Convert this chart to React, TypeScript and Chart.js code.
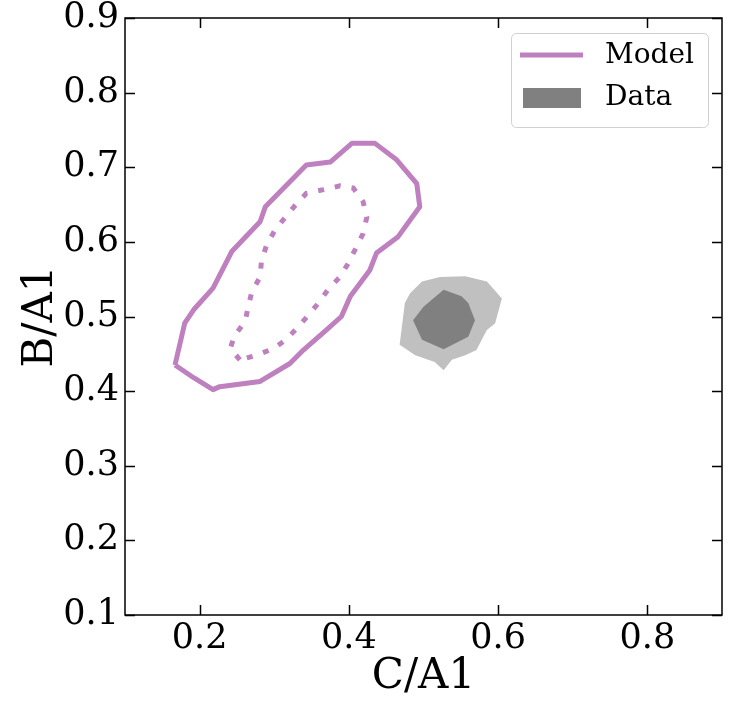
import { useEffect, useRef } from "react";
import { Chart, registerables } from "chart.js";

Chart.register(...registerables);

const FONT = "'DejaVu Serif', 'Liberation Serif', serif";

// Axis ticks
const xTickValues = [0.2, 0.4, 0.6, 0.8];
const yTickValues = [0.1, 0.2, 0.3, 0.4, 0.5, 0.6, 0.7, 0.8, 0.9];

// Model contours (C/A1, B/A1)
const modelOuter: [number, number][] = [
  [0.167, 0.435], [0.180, 0.491], [0.192, 0.509], [0.218, 0.538], [0.243, 0.587],
  [0.281, 0.627], [0.288, 0.647], [0.343, 0.703], [0.375, 0.707], [0.404, 0.732],
  [0.435, 0.732], [0.464, 0.710], [0.491, 0.678], [0.495, 0.647], [0.466, 0.607],
  [0.437, 0.585], [0.428, 0.562], [0.402, 0.527], [0.390, 0.500], [0.370, 0.482],
  [0.339, 0.455], [0.321, 0.437], [0.281, 0.413], [0.227, 0.406], [0.218, 0.402],
  [0.192, 0.418], [0.167, 0.435],
];

const modelInner: [number, number][] = [
  [0.254, 0.442], [0.241, 0.457], [0.247, 0.475], [0.261, 0.493], [0.265, 0.513],
  [0.270, 0.533], [0.281, 0.553], [0.283, 0.576], [0.290, 0.596], [0.301, 0.616],
  [0.314, 0.632], [0.328, 0.649], [0.343, 0.665], [0.366, 0.670], [0.388, 0.675],
  [0.406, 0.672], [0.419, 0.654], [0.424, 0.633], [0.419, 0.611], [0.410, 0.593],
  [0.399, 0.571], [0.388, 0.553], [0.372, 0.536], [0.360, 0.519], [0.346, 0.502],
  [0.330, 0.484], [0.316, 0.469], [0.299, 0.457], [0.276, 0.448], [0.254, 0.442],
];

// Data contours
const dataOuter: [number, number][] = [
  [0.498, 0.547], [0.522, 0.553], [0.556, 0.554], [0.585, 0.547], [0.605, 0.524],
  [0.596, 0.491], [0.585, 0.482], [0.578, 0.469], [0.571, 0.455], [0.556, 0.448],
  [0.538, 0.442], [0.527, 0.428], [0.515, 0.439], [0.489, 0.448], [0.468, 0.462],
  [0.471, 0.486], [0.475, 0.518], [0.482, 0.531], [0.498, 0.547],
];

const dataInner: [number, number][] = [
  [0.527, 0.536], [0.551, 0.527], [0.560, 0.518], [0.569, 0.495], [0.560, 0.473],
  [0.527, 0.456], [0.498, 0.469], [0.486, 0.495], [0.500, 0.513], [0.527, 0.536],
];

const MODEL_COLOR = "#bf80bf";
const DATA_DARK = "#808080";
const DATA_LIGHT = "#c0c0c0";

const toPts = (arr: [number, number][]) => arr.map(([x, y]) => ({ x, y }));

// Inward tick marks on all four sides plus the frame
const frameTicks = {
  id: "frameTicks",
  afterDatasetsDraw(chart: any) {
    const { ctx, chartArea: a, scales } = chart;
    const xs = scales.x;
    const ys = scales.y;
    const L = 10;
    ctx.save();
    ctx.strokeStyle = "#000";
    ctx.lineWidth = 1.5;
    ctx.beginPath();
    xs.ticks.forEach((t: any) => {
      const px = Math.round(xs.getPixelForValue(t.value)) + 0.5;
      ctx.moveTo(px, a.bottom);
      ctx.lineTo(px, a.bottom - L);
      ctx.moveTo(px, a.top);
      ctx.lineTo(px, a.top + L);
    });
    ys.ticks.forEach((t: any) => {
      const py = Math.round(ys.getPixelForValue(t.value)) + 0.5;
      ctx.moveTo(a.left, py);
      ctx.lineTo(a.left + L, py);
      ctx.moveTo(a.right, py);
      ctx.lineTo(a.right - L, py);
    });
    ctx.stroke();
    ctx.strokeRect(a.left, a.top, a.right - a.left, a.bottom - a.top);
    ctx.restore();
  },
};

// Legend box in the upper right of the plot area
const cornerLegend = {
  id: "cornerLegend",
  afterDraw(chart: any) {
    const { ctx, chartArea: a } = chart;
    const ds = chart.data.datasets;
    const model = ds.find((d: any) => d.label === "Model");
    const data = ds.find((d: any) => d.label === "Data");
    const bx = a.right - 211;
    const by = a.top + 15;
    const bw = 197;
    const bh = 94;
    ctx.save();
    ctx.beginPath();
    ctx.roundRect(bx + 0.5, by + 0.5, bw, bh, 5);
    ctx.fillStyle = "rgba(255,255,255,0.8)";
    ctx.fill();
    ctx.strokeStyle = "#d0d0d0";
    ctx.lineWidth = 1;
    ctx.stroke();

    ctx.strokeStyle = model.borderColor;
    ctx.lineWidth = 5;
    ctx.beginPath();
    ctx.moveTo(bx + 9, by + 22);
    ctx.lineTo(bx + 72, by + 22);
    ctx.stroke();

    ctx.fillStyle = data.backgroundColor;
    ctx.fillRect(bx + 12, by + 55, 58, 20);

    ctx.fillStyle = "#000";
    ctx.font = `28px ${FONT}`;
    ctx.textBaseline = "middle";
    ctx.textAlign = "left";
    ctx.fillText(model.label, bx + 94, by + 23);
    ctx.fillText(data.label, bx + 94, by + 65);
    ctx.restore();
  },
};

export default function App() {
  const ref = useRef<HTMLCanvasElement | null>(null);

  useEffect(() => {
    document.body.style.margin = "0";
    if (!ref.current) return;
    const chart = new Chart(ref.current, {
      type: "line",
      data: {
        datasets: [
          {
            label: "Model",
            data: toPts(modelOuter),
            borderColor: MODEL_COLOR,
            borderWidth: 5,
            pointRadius: 0,
            fill: false,
            tension: 0,
            borderJoinStyle: "round",
          },
          {
            label: "Model inner",
            data: toPts(modelInner),
            borderColor: MODEL_COLOR,
            borderWidth: 5,
            borderDash: [6, 11],
            borderCapStyle: "butt",
            pointRadius: 0,
            fill: false,
            tension: 0,
          },
          {
            label: "Data",
            data: toPts(dataInner),
            borderWidth: 0,
            borderColor: "rgba(0,0,0,0)",
            backgroundColor: DATA_DARK,
            pointRadius: 0,
            fill: "shape",
            tension: 0,
          },
          {
            label: "Data outer",
            data: toPts(dataOuter),
            borderWidth: 0,
            borderColor: "rgba(0,0,0,0)",
            backgroundColor: DATA_LIGHT,
            pointRadius: 0,
            fill: "shape",
            tension: 0,
          },
        ],
      },
      options: {
        responsive: false,
        animation: false,
        events: [],
        layout: { padding: { left: 0, right: 22, top: 18, bottom: 0 } },
        plugins: {
          legend: { display: false },
          tooltip: { enabled: false },
        },
        scales: {
          x: {
            type: "linear",
            min: 0.1,
            max: 0.9,
            afterBuildTicks: (s: any) => {
              s.ticks = xTickValues.map((value) => ({ value }));
            },
            afterFit: (s: any) => {
              s.height = 87;
              s.paddingLeft = 0;
              s.paddingRight = 0;
            },
            grid: { display: false, drawTicks: false },
            border: { display: false },
            ticks: {
              color: "#000",
              padding: 6,
              maxRotation: 0,
              font: { family: FONT, size: 35, lineHeight: 1 },
              callback: (v: any) => Number(v).toFixed(1),
            },
            title: {
              display: true,
              text: "C/A1",
              color: "#000",
              font: { family: FONT, size: 42, lineHeight: 1.1 },
              padding: { top: 0, bottom: 2 },
            },
          },
          y: {
            type: "linear",
            min: 0.1,
            max: 0.9,
            afterBuildTicks: (s: any) => {
              s.ticks = yTickValues.map((value) => ({ value }));
            },
            afterFit: (s: any) => {
              s.width = 125;
              s.paddingTop = 0;
              s.paddingBottom = 0;
            },
            grid: { display: false, drawTicks: false },
            border: { display: false },
            ticks: {
              color: "#000",
              padding: 6,
              font: { family: FONT, size: 35, lineHeight: 1 },
              callback: (v: any) => Number(v).toFixed(1),
            },
            title: {
              display: true,
              text: "B/A1",
              color: "#000",
              font: { family: FONT, size: 42, lineHeight: 1.1 },
              padding: { top: 18, bottom: 0 },
            },
          },
        },
      },
      plugins: [frameTicks, cornerLegend],
    });
    return () => chart.destroy();
  }, []);

  return (
    <div style={{ width: 744, height: 702 }}>
      <canvas ref={ref} width={744} height={702} />
    </div>
  );
}
